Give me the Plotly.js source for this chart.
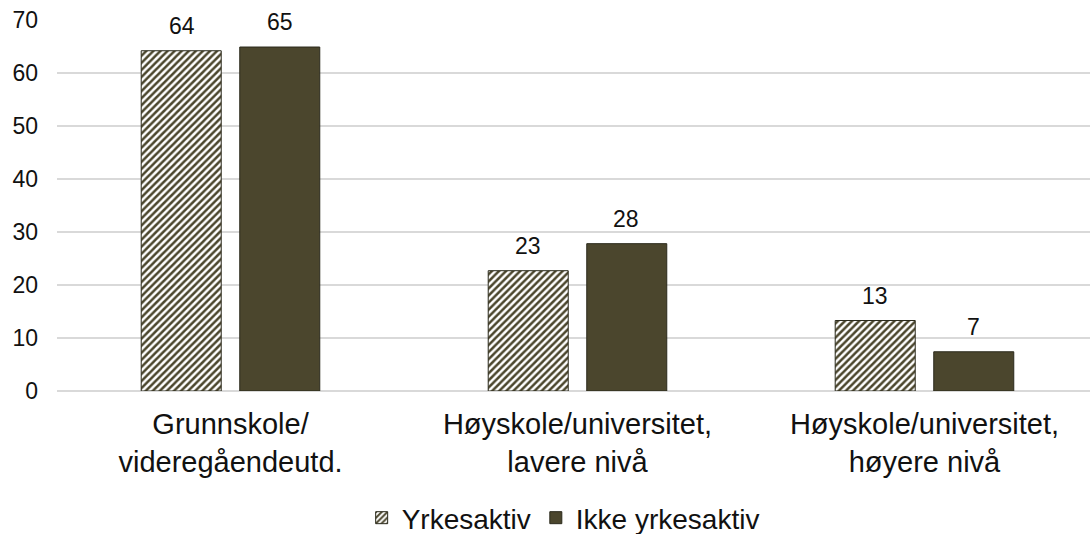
<!DOCTYPE html>
<html>
<head>
<meta charset="utf-8">
<script src="https://cdn.plot.ly/plotly-3.0.1.min.js"></script>
<style>html,body{margin:0;padding:0;background:#fff;}#chart{width:1090px;height:534px;}</style>
</head>
<body>
<div id="chart"></div>
<script>
const categories = ["Grunnskole/<br>videregåendeutd.", "Høyskole/universitet,<br>lavere nivå", "Høyskole/universitet,<br>høyere nivå"];
const seriesNames = ["Yrkesaktiv", "Ikke yrkesaktiv"];
const yrkesaktiv = [64.2, 22.7, 13.3];
const ikkeYrkesaktiv = [64.9, 27.8, 7.4];
const labelsYrkesaktiv = ["64", "23", "13"];
const labelsIkke = ["65", "28", "7"];

const dark = "#4b462d";
const edge = "#2b2a1c";
const font = "Liberation Sans, Arial, sans-serif";

const traces = [
  {
    type: "bar", name: seriesNames[0], x: categories, y: yrkesaktiv,
    marker: {color: "white", line: {color: edge, width: 1},
      pattern: {shape: "/", fgcolor: dark, bgcolor: "white", size: 5, solidity: 0.5}},
    hoverinfo: "skip"
  },
  {
    type: "bar", name: seriesNames[1], x: categories, y: ikkeYrkesaktiv,
    marker: {color: dark, line: {color: edge, width: 1}},
    hoverinfo: "skip"
  }
];

const annotations = [];
categories.forEach((c, i) => {
  annotations.push({x: c, y: yrkesaktiv[i], text: labelsYrkesaktiv[i], showarrow: false,
    xanchor: "center", yanchor: "bottom", xshift: -49, yshift: 10,
    font: {family: font, size: 23, color: "#111"}});
  annotations.push({x: c, y: ikkeYrkesaktiv[i], text: labelsIkke[i], showarrow: false,
    xanchor: "center", yanchor: "bottom", xshift: 49, yshift: 10,
    font: {family: font, size: 23, color: "#111"}});
});

const layout = {
  width: 1090, height: 534,
  margin: {l: 57, r: 0, t: 20, b: 143, autoexpand: false},
  paper_bgcolor: "white", plot_bgcolor: "white",
  font: {family: font, color: "#111"},
  barmode: "group", bargap: 0.432, bargroupgap: 0.188,
  showlegend: true,
  legend: {orientation: "h", x: 0.49, xanchor: "center", yref: "container", y: 0.03, yanchor: "middle",
    font: {family: font, size: 28, color: "#111"}, itemwidth: 30},
  xaxis: {
    range: [-0.5, 2.477], showgrid: false, zeroline: false, showline: false, ticks: "",
    automargin: false, ticklabelstandoff: 13,
    tickfont: {family: font, size: 29, color: "#111"}, fixedrange: true
  },
  yaxis: {
    range: [0, 70], dtick: 10, tick0: 0, showgrid: true, gridcolor: "#d9d9d9", gridwidth: 2,
    zeroline: true, zerolinecolor: "#d9d9d9", zerolinewidth: 2, showline: false, ticks: "",
    ticklabelstandoff: 18, automargin: false,
    tickfont: {family: font, size: 23, color: "#111"}, fixedrange: true
  },
  annotations: annotations
};

Plotly.newPlot("chart", traces, layout, {displayModeBar: false, staticPlot: true});
</script>
</body>
</html>
